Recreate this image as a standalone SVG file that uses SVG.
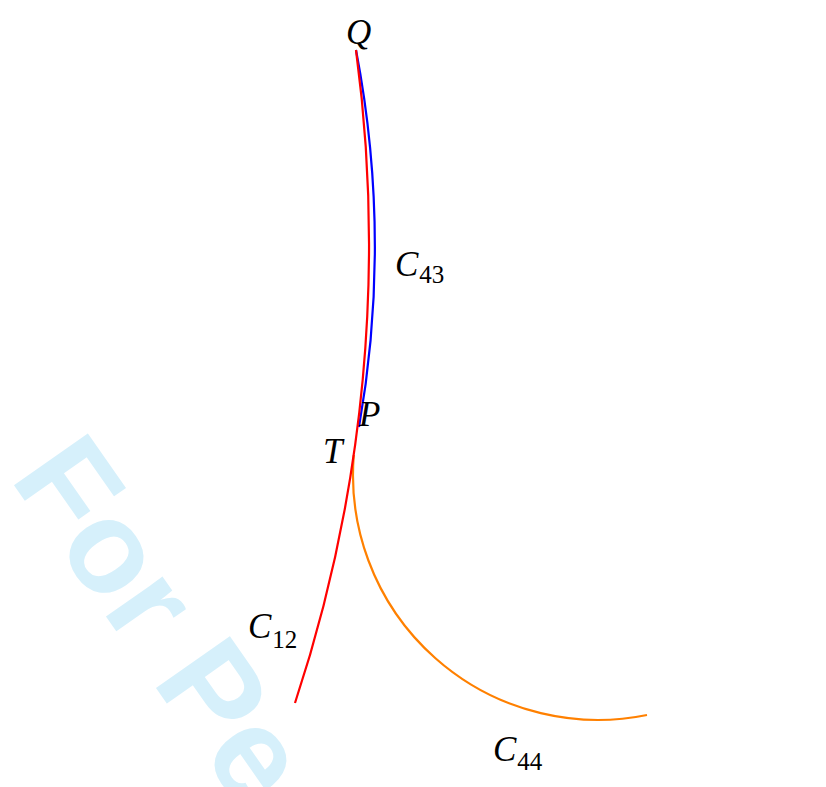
<svg xmlns="http://www.w3.org/2000/svg" width="826" height="787" viewBox="0 0 826 787">
<style>
.curve{fill:none;stroke-width:2.2;stroke-linecap:butt}
.lbl{font-family:"Liberation Serif","DejaVu Serif",serif;font-style:italic;font-size:35px;fill:#000}
.sub{font-family:"Liberation Serif","DejaVu Serif",serif;font-style:normal;font-size:25px;fill:#000}
.wm{font-family:"Liberation Sans",Arial,sans-serif;font-weight:bold;font-size:131px;fill:#d6f0fb}
</style>
<rect width="826" height="787" fill="#fff"/>
<text class="wm" transform="translate(9,478) rotate(55)">For Pe</text>
<g id="connectors">
<path id="C43" class="curve" stroke="#0000ff" d="M356,50 A1042,1042 0 0 1 359,427"/>
<path id="C44" class="curve" stroke="#ff8000" d="M353.8,455 A245,245 0 0 0 647,715"/>
<path id="C12" class="curve" stroke="#ff0000" d="M356,50 A1458,1458 0 0 1 295,703"/>
</g>
<g id="label-Q"><text class="lbl" x="346" y="44">Q</text></g>
<g id="label-P"><text class="lbl" x="359" y="426">P</text></g>
<g id="label-T"><text class="lbl" x="323" y="463">T</text></g>
<g id="label-C43"><text class="lbl" x="395" y="276">C<tspan class="sub" dx="1" dy="7">43</tspan></text></g>
<g id="label-C12"><text class="lbl" x="248" y="638">C<tspan class="sub" dx="1" dy="10">12</tspan></text></g>
<g id="label-C44"><text class="lbl" x="493" y="761">C<tspan class="sub" dx="1" dy="9">44</tspan></text></g>
</svg>
